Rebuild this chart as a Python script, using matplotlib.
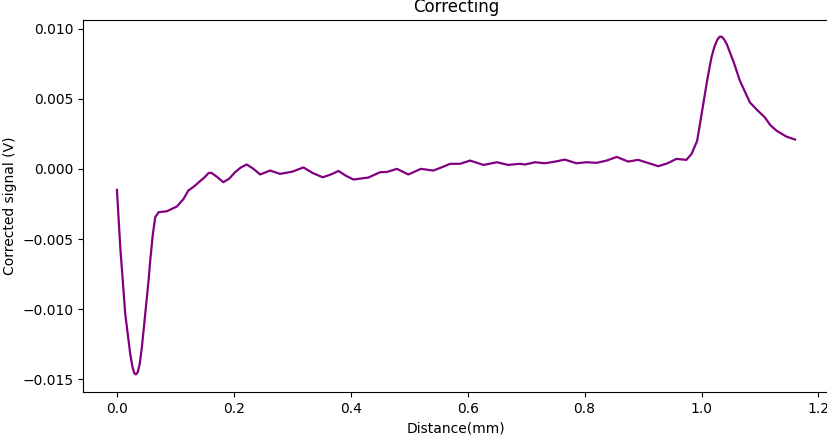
import matplotlib
matplotlib.use("Agg")
import matplotlib.pyplot as plt
import numpy as np

# points
distance = [0.000, 0.0057, 0.0142, 0.0227, 0.0265, 0.0295, 0.0325, 0.0355, 0.039, 0.0427,
            0.0484, 0.054, 0.057, 0.0615, 0.0655, 0.0712, 0.0855, 0.1026, 0.114, 0.122,
            0.132, 0.142, 0.150, 0.157, 0.162, 0.172, 0.182, 0.192, 0.202, 0.212,
            0.222, 0.2335, 0.245, 0.262, 0.279, 0.300, 0.319, 0.335, 0.352, 0.366,
            0.379, 0.392, 0.4045, 0.430, 0.450, 0.462, 0.479, 0.4985, 0.520, 0.541,
            0.555, 0.570, 0.587, 0.604, 0.627, 0.650, 0.669, 0.689, 0.698, 0.715,
            0.732, 0.750, 0.766, 0.786, 0.803, 0.8205, 0.8376, 0.855, 0.8745, 0.8916,
            0.910, 0.926, 0.942, 0.957, 0.974, 0.983, 0.9925, 1.003, 1.010, 1.017,
            1.022, 1.027, 1.031, 1.035, 1.039, 1.043, 1.055, 1.0655, 1.0826, 1.095,
            1.108, 1.118, 1.128, 1.145, 1.160]
signal = [-0.0015, -0.00558, -0.01033, -0.01318, -0.01410, -0.01455, -0.01465, -0.01450, -0.01390, -0.0127,
          -0.01033, -0.0080, -0.0065, -0.00463, -0.00345, -0.00309, -0.00302, -0.00268, -0.00214, -0.00155,
          -0.00125, -0.00088, -0.0006, -0.00029, -0.00029, -0.0006, -0.00095, -0.0007, -0.00024, 0.0001,
          0.00031, 0.0, -0.0004, -0.00012, -0.00036, -0.0002, 0.0001, -0.0003, -0.0006, -0.0004,
          -0.00015, -0.0005, -0.00076, -0.00062, -0.00024, -0.00022, 0.0, -0.0004, 0.0, -0.00012,
          0.0001, 0.00036, 0.00036, 0.00059, 0.00028, 0.00047, 0.00028, 0.00036, 0.00031, 0.00047,
          0.0004, 0.00052, 0.00066, 0.0004, 0.00047, 0.00043, 0.00059, 0.00085, 0.00052, 0.00064,
          0.0004, 0.00019, 0.0004, 0.00071, 0.00064, 0.00107, 0.0020, 0.00463, 0.0064, 0.00795,
          0.0087, 0.0092, 0.00942, 0.0094, 0.0092, 0.0089, 0.0076, 0.00629, 0.00474, 0.0042,
          0.00368, 0.0031, 0.00273, 0.0023, 0.00209]

fig = plt.figure(figsize=(8.27, 4.37), dpi=100)
ax = fig.add_axes([0.1004, 0.103, 0.902, 0.851])
ax.plot(distance, signal, color='purple', linewidth=1.6, solid_joinstyle='round')
ax.set_xlim(-0.058, 1.218)
ax.set_ylim(-0.0159, 0.0106)
ax.spines['right'].set_visible(False)
ax.set_title("Correcting")
ax.set_xlabel("Distance(mm)")
ax.set_ylabel("Corrected signal (V)")
fig.savefig("out.png", dpi=100)
